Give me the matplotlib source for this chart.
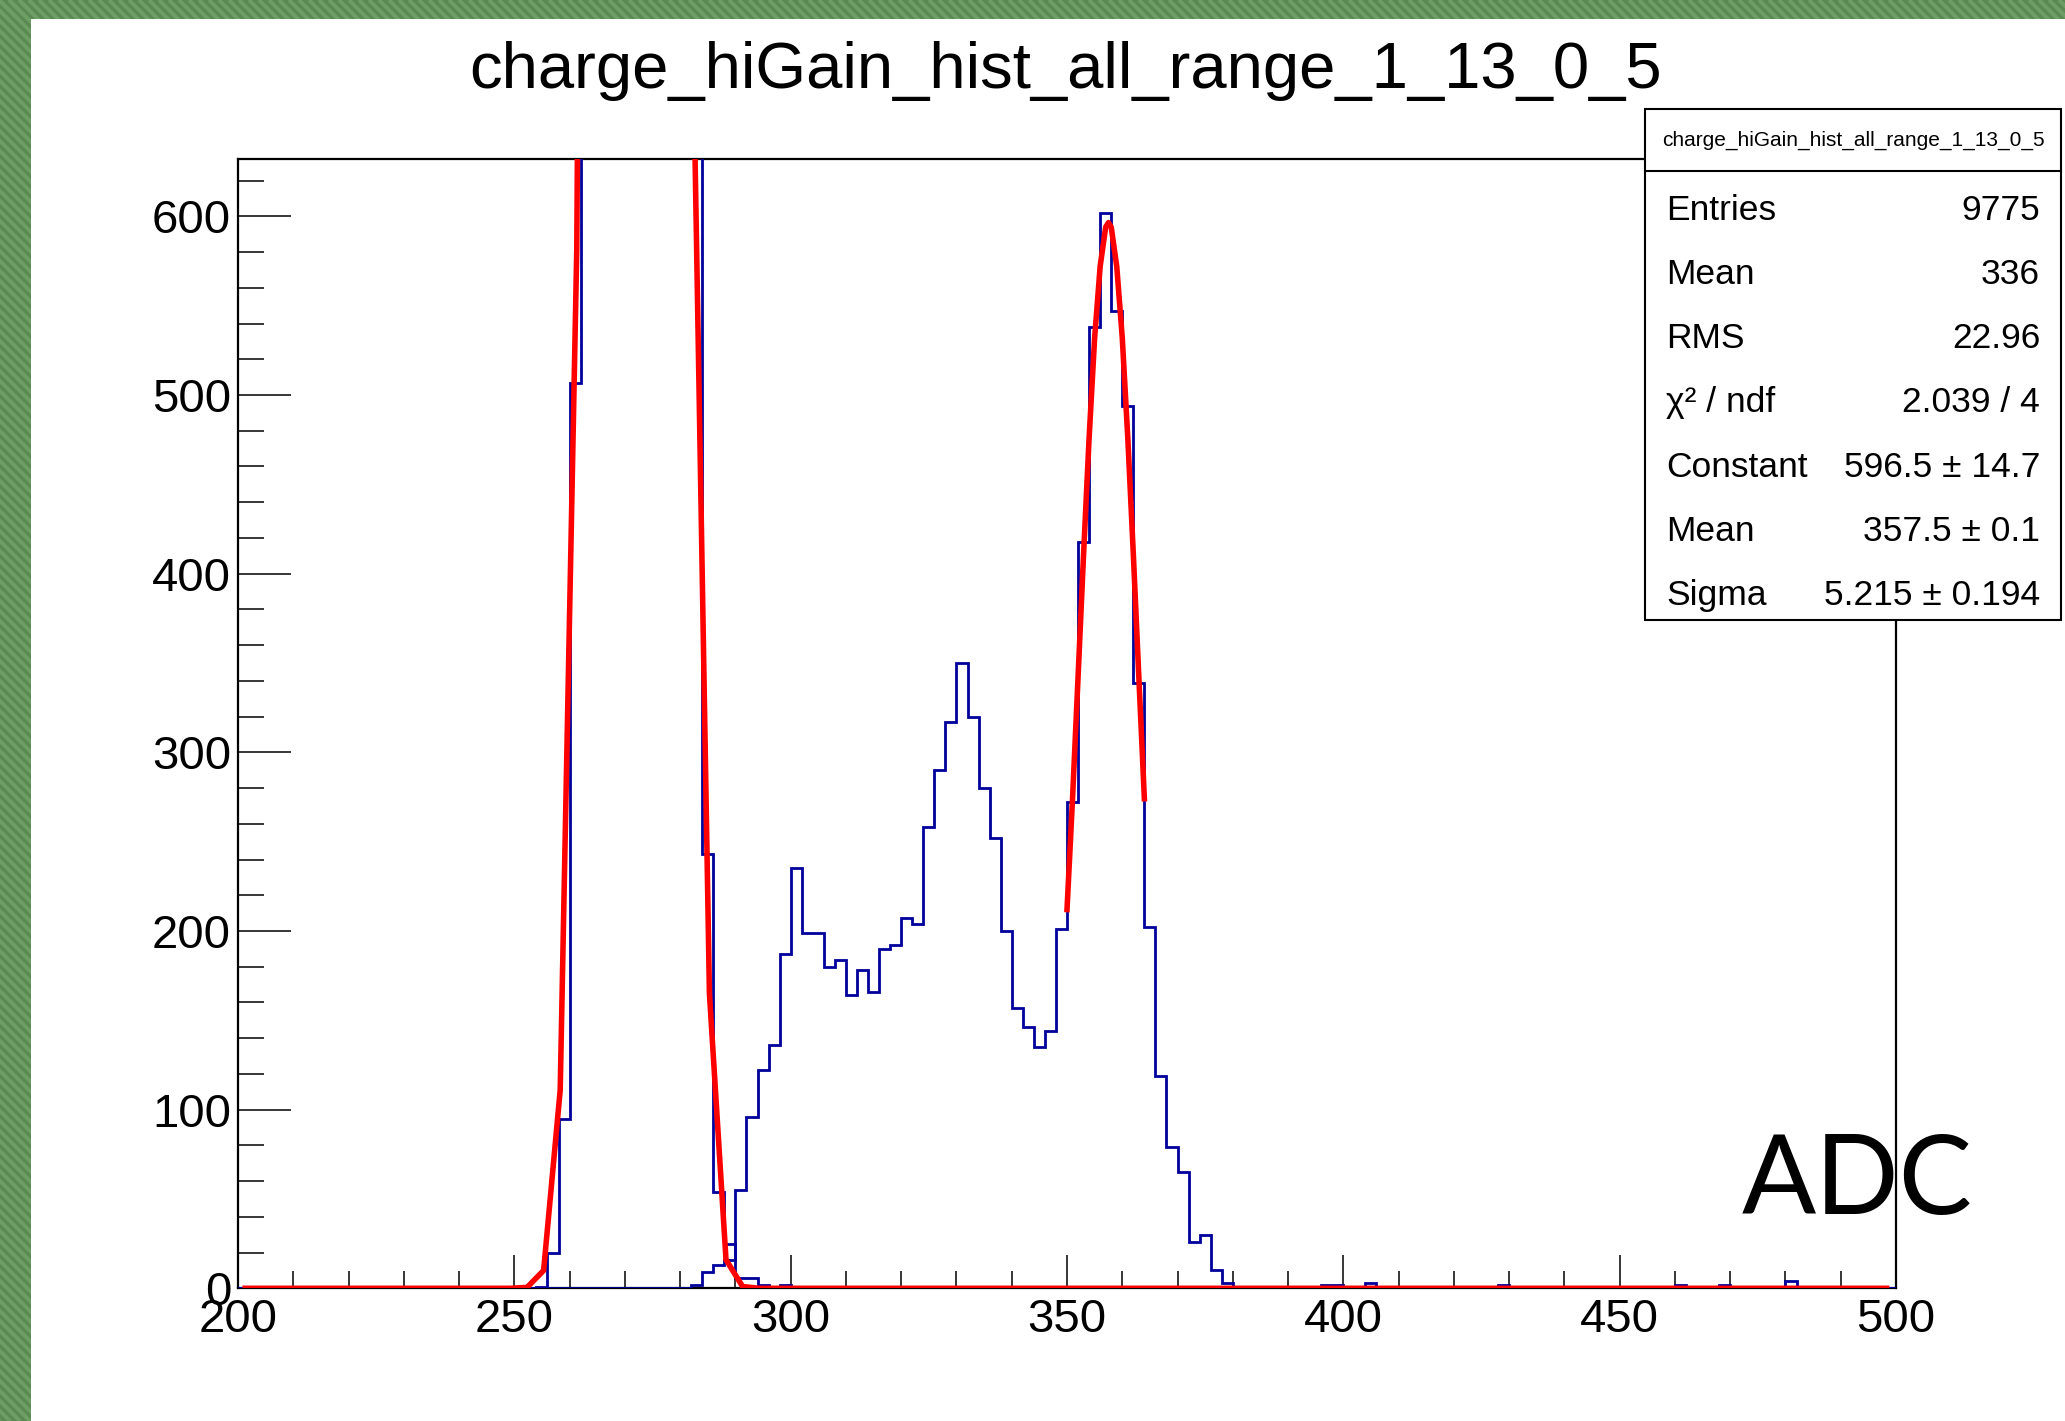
import numpy as np
import matplotlib
matplotlib.use("Agg")
import matplotlib.pyplot as plt
from matplotlib.patches import Rectangle
from matplotlib.collections import LineCollection

plt.rcParams['font.family'] = ['Liberation Sans', 'DejaVu Sans']

# ------------------------------------------------------------------ data
title = "charge_hiGain_hist_all_range_1_13_0_5"
x_min, x_max, bin_w = 200, 500, 2
y_max = 632.1

# signal histogram (the one summarised in the stats box), contiguous block
sig_start = 282
sig_counts = [2, 9, 13, 16, 55, 96, 122, 136, 187, 235, 199, 199, 180, 184,
              164, 178, 166, 190, 192, 207, 204, 258, 290, 317, 350, 320,
              280, 252, 200, 157, 146, 135, 144, 201, 272, 418, 538, 602,
              547, 494, 339, 202, 119, 79, 65, 26, 30, 10, 3, 1]
# sparse tail of the signal histogram
sig_tail_edges = [384, 390, 392, 396, 398, 402, 404, 408, 418, 420, 428, 444,
                  454, 456, 458, 460, 464, 466, 468, 470, 472, 478, 480, 488, 494]
sig_tail_counts = [1, 1, 1, 2, 2, 1, 3, 1, 1, 1, 2, 1,
                   1, 1, 1, 2, 1, 1, 2, 1, 1, 1, 4, 1, 1]

# pedestal histogram (drawn "same"), contiguous block
ped_start = 254
ped_counts = [1, 20, 95, 507, 1230, 2510, 4300, 6140, 7340, 7340, 6140, 4300,
              2510, 1230, 700, 243, 54, 25, 6, 6, 2, 1, 2, 0, 0, 0, 1]

# pedestal fit curve, sampled every 3 ADC from 201.3 (100 points)
ped_fit_first, ped_fit_step, ped_fit_n = 201.3, 3.0, 100
ped_fit_nz_index = 17
ped_fit_nz_vals = [0.5, 10, 111, 582, 2000, 4580, 7030, 7220, 4970, 2280,
                   705, 165, 16, 1]

# gaussian fit of the signal peak (sampled points)
sig_fit_x = [350, 351, 352, 353, 354, 355, 356, 357, 357.5, 358, 359, 360,
             361, 362, 363, 364]
sig_fit_y = [212, 274, 342, 411, 476, 532, 572, 594, 596.5, 594, 572, 532,
             476, 411, 342, 274]

stats_keys = ["Entries", "Mean", "RMS", "\u03c7\u00b2 / ndf", "Constant", "Mean", "Sigma"]
stats_vals = ["9775", "336", "22.96", "2.039 / 4", "596.5 \u00b1 14.7",
              "357.5 \u00b1 0.1", "5.215 \u00b1 0.194"]
axis_label = "ADC"

# ------------------------------------------------------------------ build arrays
edges = np.arange(x_min, x_max + bin_w, bin_w)
nb = len(edges) - 1
sig = np.zeros(nb)
i0 = (sig_start - x_min) // bin_w
sig[i0:i0 + len(sig_counts)] = sig_counts
for e, c in zip(sig_tail_edges, sig_tail_counts):
    sig[(e - x_min) // bin_w] = c
ped = np.zeros(nb)
j0 = (ped_start - x_min) // bin_w
ped[j0:j0 + len(ped_counts)] = ped_counts

ped_fit_x = ped_fit_first + ped_fit_step * np.arange(ped_fit_n)
ped_fit_y = np.zeros(ped_fit_n)
ped_fit_y[ped_fit_nz_index:ped_fit_nz_index + len(ped_fit_nz_vals)] = ped_fit_nz_vals

# ------------------------------------------------------------------ figure
W, H = 2065, 1421
fig = plt.figure(figsize=(W / 100, H / 100), dpi=100, facecolor='white')

# background frame (green striped border on top and left)
bg = fig.add_axes([0, 0, 1, 1], zorder=0)
bg.set_xlim(0, W)
bg.set_ylim(H, 0)
bg.axis('off')
green = '#5a8a52'
stripe = '#6d9f65'
r_top = Rectangle((0, 0), W, 19, facecolor=green, edgecolor='none')
r_left = Rectangle((0, 0), 31, H, facecolor=green, edgecolor='none')
bg.add_patch(r_top)
bg.add_patch(r_left)
segs = [[(c, 0), (c + H, H)] for c in np.arange(-H - 20, W + 20, 10)]
for rp in (r_top, r_left):
    lc = LineCollection(segs, colors=stripe, linewidths=2.8)
    bg.add_collection(lc)
    lc.set_clip_path(rp)

# main axes
ax_l, ax_r, ax_t, ax_b = 238, 1896, 159, 1288.3
ax = fig.add_axes([ax_l / W, 1 - ax_b / H, (ax_r - ax_l) / W, (ax_b - ax_t) / H], zorder=1)
ax.set_xlim(x_min, x_max)
ax.set_ylim(0, y_max)

blue = '#00009c'
ax.stairs(ped, edges, color=blue, linewidth=2.0, baseline=0, zorder=2.6)
ax.stairs(sig, edges, color=blue, linewidth=2.0, baseline=0, zorder=2.7)
ax.plot(ped_fit_x, ped_fit_y, color='#ff0000', linewidth=4.0, zorder=3,
        solid_joinstyle='miter')
ax.plot(sig_fit_x, sig_fit_y, color='#ff0000', linewidth=4.0, zorder=3.1)

for s in ax.spines.values():
    s.set_linewidth(1.6)
    s.set_color('black')

ax.set_xticks(np.arange(x_min, x_max + 1, 50))
ax.set_xticks(np.arange(x_min, x_max + 1, 10), minor=True)
ax.set_yticks(np.arange(0, 601, 100))
ax.set_yticks(np.arange(0, 621, 20), minor=True)
ax.xaxis.set_tick_params(which='major', direction='in', length=24, width=1.1,
                         labelsize=34, pad=7)
ax.xaxis.set_tick_params(which='minor', direction='in', length=12, width=1.1)
ax.yaxis.set_tick_params(which='major', direction='in', length=38, width=1.1,
                         labelsize=34, pad=5)
ax.yaxis.set_tick_params(which='minor', direction='in', length=19, width=1.1)

# title
fig.text(1066 / W, 1 - 88 / H, title, ha='center', va='baseline', fontsize=47)

# overlay for stats box and axis label
ov = fig.add_axes([0, 0, 1, 1], zorder=5)
ov.set_xlim(0, W)
ov.set_ylim(H, 0)
ov.axis('off')
ov.patch.set_alpha(0)

bx0, bx1, by0, by1 = 1645, 2061, 109, 620
ov.add_patch(Rectangle((bx0, by0), bx1 - bx0, by1 - by0, facecolor='white',
                       edgecolor='black', linewidth=1.5))
ov.plot([bx0, bx1], [171, 171], color='black', linewidth=1.5)
ov.text((bx0 + bx1) / 2, 140, title, ha='center', va='center', fontsize=15)
row0, drow = 219.5, 64.3
for k, (key, val) in enumerate(zip(stats_keys, stats_vals)):
    yb = row0 + k * drow
    ov.text(1666, yb, key, ha='left', va='baseline', fontsize=25.5)
    ov.text(2040, yb, val, ha='right', va='baseline', fontsize=25.5)

ov.text(1742, 1214, axis_label, ha='left', va='baseline', fontsize=79,
        family=['Lato', 'DejaVu Sans'])

fig.savefig('out.png', dpi=100, facecolor='white')
